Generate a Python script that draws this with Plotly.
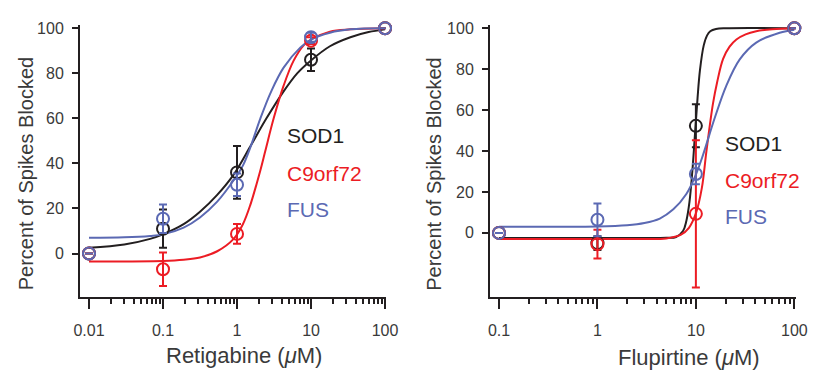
import plotly.graph_objects as go

# ---------------- data ----------------
# Retigabine panel (left)
ret_x = [0.01, 0.1, 1, 10, 100]
ret_sod1 = [0, 11, 36, 86, 100]
ret_sod1_err = [0, 8.5, 11.7, 5, 0]
ret_c9 = [0, -7, 8.7, 94.5, 100]
ret_c9_err = [0, 7.4, 4.4, 1.5, 0]
ret_fus = [0, 15.4, 30.5, 96, 100]
ret_fus_err = [0, 6.3, 5, 2, 0]

# fitted curves (Retigabine)
ret_fit_sod1_x = [0.01, 0.03, 0.067, 0.1, 0.19, 0.316, 0.54, 0.9, 1.51, 2.5, 4.26, 6.5, 9.8, 18, 34, 60, 100]
ret_fit_sod1_y = [2.5, 4, 6.5, 8.5, 13, 18.5, 26, 35, 47.5, 60, 72, 80, 85.5, 92, 96, 98.3, 99.5]
ret_fit_c9_x = [0.01, 0.1, 0.19, 0.316, 0.54, 0.9, 1.2, 1.51, 2.07, 2.41, 3.13, 4.26, 5.8, 8, 10, 18, 34, 100]
ret_fit_c9_y = [-3.5, -3.3, -2.8, -1.8, 1, 6.5, 13, 21.5, 37, 45.5, 60, 74.5, 85.5, 92.5, 95, 98.5, 99.5, 100]
ret_fit_fus_x = [0.01, 0.03, 0.067, 0.1, 0.19, 0.316, 0.54, 0.9, 1.2, 1.51, 2.07, 2.9, 4.26, 7.2, 10, 18, 34, 100]
ret_fit_fus_y = [7, 7.2, 7.8, 8.5, 11.5, 16, 23, 32.5, 39, 47, 60, 72, 82.5, 91.5, 95, 98, 99.5, 100]

# Flupirtine panel (right)
flu_x = [0.1, 1, 10, 100]
flu_sod1 = [0, -5, 52.3, 100]
flu_sod1_err = [0, 3.4, 10.5, 0]
flu_c9 = [0, -5.5, 9.3, 100]
flu_c9_err = [0, 7, 36, 0]
flu_fus = [0, 6.4, 28.8, 100]
flu_fus_err = [0, 8, 5, 0]

flu_fit_sod1_x = [0.1, 1, 3, 5, 6.3, 7.4, 8, 8.6, 9.2, 9.8, 10.4, 11, 12, 13, 14, 16, 20, 100]
flu_fit_sod1_y = [-2.5, -2.5, -2.5, -2.4, -2, 0.9, 5.8, 15, 30, 48.5, 66, 79.5, 91.5, 96.5, 98.5, 99.6, 100, 100]
flu_fit_c9_x = [0.1, 1, 3, 5, 7, 8.5, 10, 11.5, 12.8, 14.9, 16.5, 18.9, 22, 25.8, 32, 41, 60, 100]
flu_fit_c9_y = [-3, -3, -3, -2.7, -1, 2.5, 9.5, 22, 40, 63, 74, 85, 91, 94.5, 97, 98.5, 99.5, 100]
flu_fit_fus_x = [0.1, 0.3, 1, 2, 3, 4.3, 5.9, 8, 10, 11.8, 15.5, 20.4, 27.9, 41, 71, 100]
flu_fit_fus_y = [3, 3, 3.1, 3.7, 4.8, 7, 11.5, 19, 28.5, 38, 56, 72, 84.8, 93, 97.8, 99.3]

ret_ticks = [0.01, 0.1, 1, 10, 100]
ret_ticktext = ["0.01", "0.1", "1", "10", "100"]
flu_ticks = [0.1, 1, 10, 100]
flu_ticktext = ["0.1", "1", "10", "100"]
y_ticks = [0, 20, 40, 60, 80, 100]
y_ticktext = ["0", "20", "40", "60", "80", "100"]
series_names = ["SOD1", "C9orf72", "FUS"]

# ---------------- style ----------------
BLACK = "#231f20"
RED = "#ec1c24"
BLUE = "#5b69b3"
TICKC = "#3a3a3a"
FONT = "Liberation Sans, Arial, Helvetica, sans-serif"
colors = [BLACK, RED, BLUE]

OFF = 8  # page body margin
W, H = 832 - OFF, 391 - OFF
# screen-pixel geometry of the plot area
SX0, SX1, SY0, SY1 = 80, 796, 20, 297
ML, MR, MT, MB = SX0 - OFF, 832 - SX1, SY0 - OFF, 391 - SY1
PW = W - ML - MR
PH = H - MT - MB


def px2paper_x(px):
    return (px - SX0) / PW


def px2paper_y(py):
    return (SY1 - py) / PH


fig = go.Figure()


def add_panel(xa, ya, fits, pts_x, pts, errs):
    for (fx, fy), c in zip(fits, colors):
        fig.add_trace(go.Scatter(x=fx, y=fy, mode="lines", xaxis=xa, yaxis=ya,
                                 line=dict(color=c, width=2, shape="spline", smoothing=1),
                                 cliponaxis=False, showlegend=False, hoverinfo="skip"))
    for yv, ev, c, n in zip(pts, errs, colors, series_names):
        fig.add_trace(go.Scatter(x=pts_x, y=yv, mode="markers", xaxis=xa, yaxis=ya, name=n,
                                 marker=dict(symbol="circle-open", size=12, color=c,
                                             line=dict(width=2, color=c)),
                                 error_y=dict(type="data", array=ev, visible=True, color=c,
                                              thickness=2, width=4),
                                 cliponaxis=False, showlegend=False))


add_panel("x", "y",
          [(ret_fit_sod1_x, ret_fit_sod1_y), (ret_fit_c9_x, ret_fit_c9_y), (ret_fit_fus_x, ret_fit_fus_y)],
          ret_x, [ret_sod1, ret_c9, ret_fus], [ret_sod1_err, ret_c9_err, ret_fus_err])
add_panel("x2", "y2",
          [(flu_fit_sod1_x, flu_fit_sod1_y), (flu_fit_c9_x, flu_fit_c9_y), (flu_fit_fus_x, flu_fit_fus_y)],
          flu_x, [flu_sod1, flu_c9, flu_fus], [flu_sod1_err, flu_c9_err, flu_fus_err])


def minor_vals(lo, hi):
    return [m * 10 ** k for k in range(lo, hi) for m in range(2, 10)]


common_x = dict(type="log", showline=True, linewidth=2, linecolor=BLACK,
                ticks="outside", ticklen=10, tickwidth=2, tickcolor=BLACK,
                tickfont=dict(family=FONT, size=16, color=TICKC),
                showgrid=False, zeroline=False, ticklabelstandoff=8)
common_y = dict(showline=True, linewidth=2, linecolor=BLACK,
                ticks="outside", ticklen=6, tickwidth=2, tickcolor=BLACK,
                tickmode="array", tickvals=y_ticks, ticktext=y_ticktext,
                tickfont=dict(family=FONT, size=16, color=TICKC),
                showgrid=False, zeroline=False, ticklabelstandoff=5)
minor_style = dict(ticks="outside", ticklen=5, tickwidth=1.5, tickcolor=BLACK, showgrid=False)

fig.update_layout(
    width=W, height=H,
    margin=dict(l=ML, r=MR, t=MT, b=MB, pad=0),
    paper_bgcolor="white", plot_bgcolor="white",
    font=dict(family=FONT),
    showlegend=False,
    xaxis=dict(domain=[0, px2paper_x(385.7)], range=[-2.1216, 2.009], anchor="y",
               tickmode="array", tickvals=ret_ticks, ticktext=ret_ticktext,
               minor=dict(tickmode="array", tickvals=minor_vals(-2, 2), **minor_style), **common_x),
    yaxis=dict(domain=[0, 1], range=[-19.31, 101.44], anchor="x", **common_y),
    xaxis2=dict(domain=[px2paper_x(490), 1], range=[-1.0914, 2.017], anchor="y2",
                tickmode="array", tickvals=flu_ticks, ticktext=flu_ticktext,
                minor=dict(tickmode="array", tickvals=minor_vals(-1, 2), **minor_style), **common_x),
    yaxis2=dict(domain=[0, 1], range=[-31.33, 101.58], anchor="x2", **common_y),
)

ann = []
TFS = 20
# axis titles
ann.append(dict(text="Percent of Spikes Blocked", x=px2paper_x(26), y=px2paper_y(172), textangle=-90,
                font=dict(size=TFS, color=TICKC)))
ann.append(dict(text="Percent of Spikes Blocked", x=px2paper_x(434.5), y=px2paper_y(172), textangle=-90,
                font=dict(size=TFS, color=TICKC)))
ann.append(dict(text="Retigabine (<i>μ</i>M)", x=px2paper_x(244), y=px2paper_y(357),
                font=dict(size=22, color=TICKC)))
ann.append(dict(text="Flupirtine (<i>μ</i>M)", x=px2paper_x(689), y=px2paper_y(359),
                font=dict(size=22, color=TICKC)))
# series labels
for name, c, yl, yr in zip(series_names, colors, [133, 171, 208], [140.5, 178, 215.5]):
    ann.append(dict(text=name, x=px2paper_x(285), y=px2paper_y(yl), xanchor="left",
                    font=dict(size=21, color=c)))
    ann.append(dict(text=name, x=px2paper_x(723), y=px2paper_y(yr), xanchor="left",
                    font=dict(size=21, color=c)))

for a in ann:
    a.setdefault("xanchor", "center")
    a.update(xref="paper", yref="paper", yanchor="middle", showarrow=False)
    a["font"]["family"] = FONT
fig.update_layout(annotations=ann)

fig.write_html("out.html")
